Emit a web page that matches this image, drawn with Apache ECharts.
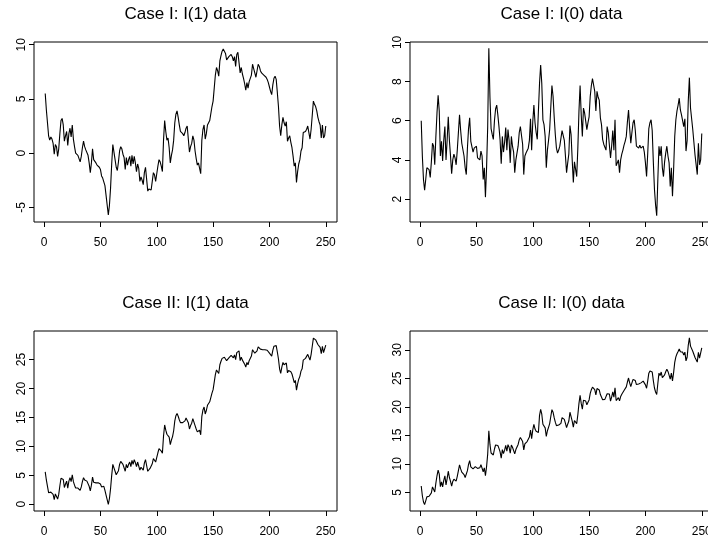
<!DOCTYPE html>
<html>
<head>
<meta charset="utf-8">
<script src="https://cdn.jsdelivr.net/npm/echarts@6/dist/echarts.min.js"></script>
<style>
html,body{margin:0;padding:0;background:#fff;overflow:hidden;}
#c{width:708px;height:541px;}
</style>
</head>
<body>
<div id="c"></div>
<script>
// Panel titles
const titles = ["Case I: I(1) data", "Case I: I(0) data", "Case II: I(1) data", "Case II: I(0) data"];
// x tick labels (time index)
const xTicks = [0, 50, 100, 150, 200, 250];
// y tick labels per panel
const yTicks1 = [-5, 0, 5, 10];
const yTicks2 = [2, 4, 6, 8, 10];
const yTicks3 = [0, 5, 10, 15, 20, 25];
const yTicks4 = [5, 10, 15, 20, 25, 30];

// Case I: I(1) data, t = 1..250
const caseI_I1 = [
5.5,4.0,2.8,1.6,1.2,1.5,1.3,0.9,-0.1,0.8,
0.6,-0.3,0.4,1.8,3.0,3.2,2.6,1.1,1.6,2.0,
0.7,1.8,2.3,1.5,2.6,1.3,0.6,0.0,0.1,-0.2,
-0.1,-0.8,-0.3,0.5,1.1,0.6,0.3,0.2,-0.2,-0.9,
-1.8,-0.9,0.4,-0.6,-0.5,-0.9,-1.1,-1.1,-1.3,-1.5,
-2.1,-2.3,-2.2,-3.0,-3.9,-4.0,-5.7,-4.8,-3.2,-1.0,
0.8,0.1,-0.6,-1.3,-1.6,-0.8,0.2,0.6,0.4,-0.1,
-0.4,-1.5,-0.4,-1.1,-0.6,-0.3,-1.2,-0.2,-1.0,-0.3,
-0.9,-1.7,-1.0,-1.4,-2.6,-2.2,-2.5,-2.9,-1.8,-1.3,
-2.4,-3.5,-3.3,-3.2,-3.4,-2.6,-1.8,-2.0,-2.6,-1.9,
-1.2,-0.6,-0.8,-1.2,-1.7,1.2,3.0,2.0,1.2,1.4,
0.5,-0.9,-0.2,0.3,1.2,2.8,3.6,3.9,3.3,2.6,
2.0,1.9,1.8,1.6,1.9,2.3,2.5,1.3,0.1,0.6,
0.9,1.6,1.2,0.2,-0.5,-1.1,-0.9,-1.0,-1.9,1.2,
2.2,2.6,1.3,1.8,2.6,2.8,3.0,3.1,4.3,4.8,
6.0,7.2,7.9,7.6,7.1,8.5,9.0,9.4,9.6,9.4,
9.2,8.6,8.5,8.9,8.8,9.1,8.9,8.5,8.9,8.0,
9.1,9.3,9.2,7.4,7.9,7.3,6.9,6.4,5.8,6.5,
6.0,6.6,6.7,7.2,8.2,7.8,7.4,7.0,7.6,8.2,
8.0,7.6,7.4,7.3,7.2,7.1,7.0,6.8,6.5,6.1,
5.7,5.4,6.3,6.9,7.1,6.8,5.6,4.3,2.5,1.6,
2.6,3.3,2.8,2.5,2.9,1.1,1.4,1.6,1.0,0.5,
-0.3,-1.2,-0.9,-2.7,-1.7,-1.0,-0.6,0.2,0.5,1.9,
2.0,2.0,2.2,2.5,1.9,1.3,2.2,3.5,4.8,4.5,
4.3,3.9,3.3,2.9,2.6,1.4,2.6,1.4,1.6,2.5
];

// Case I: I(0) data
const caseI_I0 = [
6.0,4.2,3.0,2.45,3.0,3.6,3.65,3.5,3.1,3.9,
4.85,4.7,3.75,5.2,6.4,7.3,6.5,4.2,4.95,3.95,
5.0,5.7,4.0,5.0,6.2,5.0,4.2,3.3,4.0,4.3,
4.1,3.75,4.5,5.4,6.3,5.5,4.85,4.8,4.2,3.6,
3.25,4.6,5.6,6.15,4.95,5.0,4.4,4.6,4.6,4.7,
4.1,4.1,4.0,4.45,4.2,3.0,3.6,2.1,3.6,5.7,
9.7,7.2,5.6,5.3,5.05,6.0,6.6,6.8,6.3,5.7,
5.0,3.8,5.2,4.4,4.9,5.65,4.5,5.55,5.0,3.85,
5.2,4.7,4.4,3.35,4.0,4.1,4.7,5.4,5.7,5.75,
4.8,3.25,4.2,4.35,4.4,4.6,5.0,6.1,4.5,5.95,
6.8,5.9,5.4,5.05,5.0,7.9,8.85,7.9,6.05,5.8,
5.2,3.6,4.5,5.0,5.55,6.7,7.8,7.25,6.2,5.3,
4.6,4.35,4.5,4.7,4.6,5.5,5.6,5.0,4.2,3.35,
3.85,4.3,5.75,5.3,4.0,2.85,3.9,4.0,3.15,4.6,
6.5,7.8,6.3,5.2,6.65,6.4,6.3,5.55,5.9,6.2,
7.25,7.8,8.15,8.1,7.5,6.5,7.5,7.2,7.05,6.15,
5.8,5.05,4.8,4.9,4.5,5.7,5.4,5.45,4.1,4.7,
5.5,4.5,6.05,3.7,3.75,4.0,3.35,4.0,4.3,4.5,
4.75,4.95,5.2,5.95,6.55,5.6,4.85,5.4,5.9,6.05,
5.5,4.7,4.75,4.6,4.75,4.6,4.65,4.7,4.4,3.85,
3.15,4.3,5.6,5.9,6.05,5.5,3.9,2.5,1.7,1.15,
3.0,4.7,4.2,4.7,3.6,3.15,3.9,4.35,4.7,4.2,
3.85,2.65,3.6,2.15,3.5,5.2,6.05,6.5,6.8,7.15,
6.55,6.3,6.3,5.7,6.1,4.45,5.0,7.0,8.2,6.65,
6.6,5.55,5.5,4.25,4.3,3.25,4.85,3.75,4.0,5.35
];

// Case II: I(1) data
const caseII_I1 = [
5.6,4.2,3.1,2.0,1.7,2.1,2.0,1.7,0.8,1.8,
1.7,0.9,1.7,3.2,4.5,4.8,4.3,2.9,3.5,4.0,
2.8,4.0,4.6,3.9,5.1,3.9,3.3,2.8,3.0,2.8,
3.0,2.4,3.0,3.9,4.6,4.2,4.0,4.0,3.7,3.1,
2.3,3.3,4.7,3.8,4.0,3.7,3.6,3.7,3.6,3.5,
3.0,2.9,3.1,2.4,1.6,1.6,0.0,1.0,2.7,5.0,
6.9,6.3,5.7,5.1,4.9,5.8,6.9,7.4,7.3,6.9,
6.7,5.7,6.9,6.3,6.9,7.3,6.5,7.6,6.9,7.7,
7.2,6.5,7.3,7.0,5.9,6.4,6.2,5.9,7.1,7.7,
6.7,5.7,6.0,6.2,6.1,7.0,7.9,7.8,7.3,8.1,
8.9,9.6,9.5,9.2,8.8,11.8,13.7,12.8,12.1,12.4,
11.6,10.3,11.1,11.7,12.7,14.4,15.3,15.7,15.2,14.6,
14.1,14.1,14.1,14.0,14.4,14.9,15.2,14.1,13.0,13.6,
14.0,14.8,14.5,13.6,13.0,12.5,12.8,12.8,12.0,15.2,
16.3,16.8,15.6,16.2,17.1,17.4,17.7,17.9,19.2,19.8,
21.1,22.4,23.2,23.0,22.6,24.1,24.7,25.2,25.5,25.4,
25.3,24.8,24.8,25.3,25.3,25.7,25.6,25.3,25.8,25.0,
26.2,26.5,26.5,24.8,25.4,24.9,24.6,24.2,23.7,24.5,
24.1,24.8,25.0,25.6,26.7,26.4,26.1,25.8,26.5,27.2,
27.1,26.8,26.7,26.7,26.7,26.7,26.7,26.6,26.4,26.1,
25.8,25.6,26.6,27.3,27.6,27.4,26.3,25.1,23.4,22.6,
23.7,24.5,24.1,23.9,24.4,22.7,23.1,23.4,22.9,22.5,
21.8,21.0,21.4,19.7,20.8,21.6,22.1,23.0,23.4,24.9,
25.1,25.2,25.5,25.9,25.4,24.9,25.9,27.3,28.7,28.5,
28.4,28.1,27.6,27.3,27.1,26.0,27.3,26.2,26.5,27.5
];

// Case II: I(0) data
const caseII_I0 = [
6.1,4.4,3.3,2.85,3.5,4.2,4.35,4.3,4.0,4.9,
5.95,5.9,5.05,6.6,7.9,8.9,8.2,6.0,6.85,5.95,
7.1,7.9,6.3,7.4,8.7,7.6,6.9,6.1,6.9,7.3,
7.2,6.95,7.8,8.8,9.8,9.1,8.55,8.6,8.1,7.6,
7.35,8.8,9.9,10.55,9.45,9.6,9.1,9.4,9.5,9.7,
9.2,9.3,9.3,9.85,9.7,8.6,9.3,7.9,9.5,11.7,
15.8,13.4,11.9,11.7,11.55,12.6,13.3,13.6,13.2,12.7,
12.1,11.0,12.5,11.8,12.4,13.25,12.2,13.35,12.9,11.85,
13.3,12.9,12.7,11.75,12.5,12.7,13.4,14.2,14.6,14.75,
13.9,12.45,13.5,13.75,13.9,14.2,14.7,15.9,14.4,15.95,
16.9,16.1,15.7,15.45,15.5,18.5,19.55,18.7,16.95,16.8,
16.3,14.8,15.8,16.4,17.05,18.3,19.5,19.05,18.1,17.3,
16.7,16.55,16.8,17.1,17.1,18.1,18.3,17.8,17.1,16.35,
16.95,17.5,19.05,18.7,17.5,16.45,17.6,17.8,17.05,18.6,
20.6,22.0,20.6,19.6,21.15,21.0,21.0,20.35,20.8,21.2,
22.35,23.0,23.45,23.5,23.0,22.1,23.2,23.0,22.95,22.15,
21.9,21.25,21.1,21.3,21.0,22.3,22.1,22.25,21.0,21.7,
22.6,21.7,23.35,21.1,21.25,21.6,21.05,21.8,22.2,22.5,
22.85,23.15,23.5,24.35,25.05,24.2,23.55,24.2,24.8,25.05,
24.6,23.9,24.05,24.0,24.25,24.2,24.35,24.5,24.3,23.85,
23.25,24.5,25.9,26.3,26.55,26.1,24.6,23.3,22.6,22.15,
24.1,25.9,25.5,26.1,25.1,24.75,25.6,26.15,26.6,26.2,
25.95,24.85,25.9,24.55,26.0,27.8,28.75,29.3,29.7,30.15,
29.65,29.5,29.6,29.1,29.6,28.05,28.7,30.8,32.1,30.65,
30.7,29.75,29.8,28.65,28.8,27.85,29.55,28.55,28.9,30.35
];

const seriesData = [caseI_I1, caseI_I0, caseII_I1, caseII_I0];
const yTicks = [yTicks1, yTicks2, yTicks3, yTicks4];
const yRanges = [[-6.35, 10.25], [0.83, 10.02], [-1.16, 29.93], [1.72, 33.3]];

const FONT = "'Liberation Sans', Arial, Helvetica, sans-serif";
const grids = [
  {left: 34, top: 42, width: 303, height: 180},
  {left: 410, top: 42, width: 303, height: 180},
  {left: 34, top: 331, width: 303, height: 180},
  {left: 410, top: 331, width: 303, height: 180}
].map(g => Object.assign(g, {show: true, borderColor: '#000', borderWidth: 1, backgroundColor: 'transparent', containLabel: false, outerBoundsMode: 'none'}));

const titleTops = [6, 6, 295, 295];
const option = {
  animation: false,
  backgroundColor: '#fff',
  title: titles.map((t, i) => ({
    text: t,
    left: grids[i].left + grids[i].width / 2,
    top: titleTops[i],
    textAlign: 'center',
    padding: 0,
    textStyle: {fontFamily: FONT, fontSize: 17, fontWeight: 'normal', color: '#000'}
  })),
  grid: grids,
  xAxis: grids.map((g, i) => ({
    type: 'value', gridIndex: i, min: -8.96, max: 259.96,
    axisLine: {show: false, onZero: false},
    splitLine: {show: false},
    axisTick: {show: true, inside: false, length: 5, lineStyle: {color: '#000', width: 1}, customValues: xTicks},
    axisLabel: {show: true, margin: 15, color: '#000', fontFamily: FONT, fontSize: 12, customValues: xTicks, formatter: v => String(v)}
  })),
  yAxis: grids.map((g, i) => ({
    type: 'value', gridIndex: i, min: yRanges[i][0], max: yRanges[i][1],
    axisLine: {show: false, onZero: false},
    splitLine: {show: false},
    axisTick: {show: true, inside: false, length: 5, lineStyle: {color: '#000', width: 1}, customValues: yTicks[i]},
    axisLabel: {show: true, rotate: 90, margin: 6, color: '#000', fontFamily: FONT, fontSize: 12, customValues: yTicks[i], formatter: v => String(v)}
  })),
  series: seriesData.map((arr, i) => ({
    type: 'line', xAxisIndex: i, yAxisIndex: i,
    data: arr.map((v, k) => [k + 1, v]),
    showSymbol: false, symbol: 'none',
    lineStyle: {color: '#000', width: 1.1},
    clip: true
  }))
};
const chart = echarts.init(document.getElementById('c'), null, {renderer: 'canvas'});
chart.setOption(option);
</script>
</body>
</html>
